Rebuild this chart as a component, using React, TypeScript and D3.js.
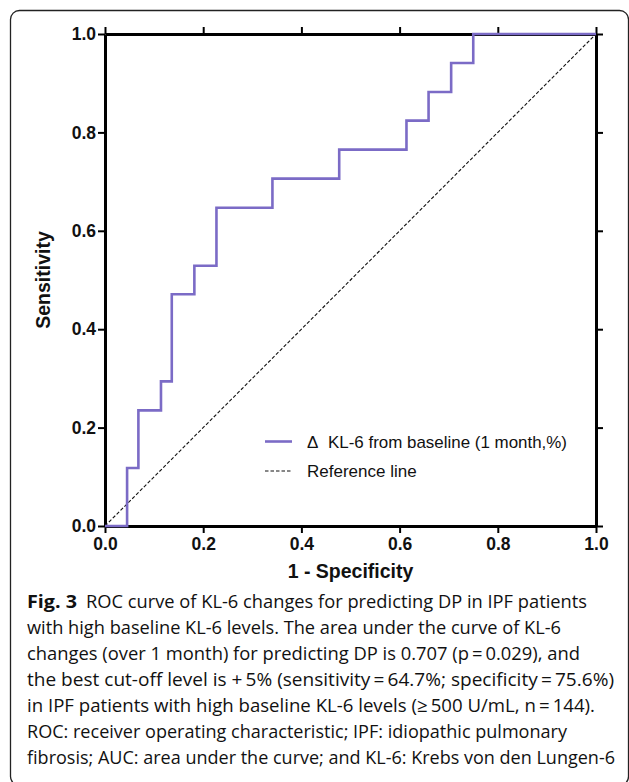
import React, { useEffect, useRef } from 'react';
import * as d3 from 'd3';

// ROC points (1 - specificity, sensitivity), step curve
const fpr = [0, 0.045, 0.068, 0.114, 0.136, 0.182, 0.227, 0.341, 0.477, 0.614, 0.659, 0.705, 0.75, 1.0];
const tpr = [0, 0.118, 0.235, 0.294, 0.471, 0.529, 0.647, 0.706, 0.765, 0.824, 0.882, 0.941, 1.0, 1.0];
const refLine = [0, 1];
const tickValues = [0, 0.2, 0.4, 0.6, 0.8, 1.0];

const legendLabels = ['KL-6 from baseline (1 month,%)', 'Reference line'];
const captionLines = [
  'ROC curve of KL-6 changes for predicting DP in IPF patients',
  'with high baseline KL-6 levels.  The area under the curve of KL-6',
  'changes (over 1 month) for predicting DP is 0.707 (p\u2009=\u20090.029), and',
  'the best cut-off level is +\u20095% (sensitivity\u2009=\u200964.7%; specificity\u2009=\u200975.6%)',
  'in IPF patients with high baseline KL-6 levels (\u2265\u2009500 U/mL, n\u2009=\u2009144).',
  'ROC: receiver operating characteristic; IPF: idiopathic pulmonary',
  'fibrosis; AUC: area under the curve; and KL-6: Krebs von den Lungen-6',
];
const captionEnds = [587, 561, 580, 614, 595, 567, 615];

const W = 629, H = 782;
const left = 105, right = 596, top = 34, bottom = 526;
const purple = '#7b6bc6';
const chartFont = '"Liberation Sans", Arial, sans-serif';
const capFont = '"Open Sans", sans-serif';

export default function App() {
  const gx = useRef<SVGGElement>(null);
  const gy = useRef<SVGGElement>(null);
  const gt = useRef<SVGGElement>(null);
  const gr = useRef<SVGGElement>(null);

  const x = d3.scaleLinear().domain([0, 1]).range([left, right]);
  const y = d3.scaleLinear().domain([0, 1]).range([bottom, top]);

  useEffect(() => {
    const fmt = d3.format('.1f');
    const style = (g: any) => {
      g.select('.domain').attr('stroke', '#000').attr('stroke-width', 3);
      g.selectAll('.tick line').attr('stroke', '#000').attr('stroke-width', 2);
      g.selectAll('.tick text')
        .attr('fill', '#111')
        .style('font-family', chartFont)
        .style('font-size', '17.5px')
        .style('font-weight', 'bold');
    };
    d3.select(gx.current!)
      .call(d3.axisBottom(x).tickValues(tickValues).tickFormat(d => fmt(+d)).tickSize(7).tickSizeOuter(0).tickPadding(5))
      .call(style);
    d3.select(gy.current!)
      .call(d3.axisLeft(y).tickValues(tickValues).tickFormat(d => fmt(+d)).tickSize(7).tickSizeOuter(0).tickPadding(2))
      .call(style);
    d3.select(gt.current!)
      .call(d3.axisTop(x).tickValues(tickValues).tickFormat(() => '').tickSize(7).tickSizeOuter(0))
      .call(style);
    d3.select(gr.current!)
      .call(d3.axisRight(y).tickValues(tickValues).tickFormat(() => '').tickSize(7).tickSizeOuter(0))
      .call(style);
  }, []);

  const pts = fpr.map((f, i) => [f, tpr[i]] as [number, number]);
  const roc = d3.line<[number, number]>()
    .x(d => x(d[0]))
    .y(d => y(d[1]))
    .curve(d3.curveStepAfter)(pts);
  const ref = d3.line<number>().x(d => x(d)).y(d => y(d))(refLine);

  return (
    <svg width={W} height={H} style={{ position: 'absolute', left: 0, top: 0, background: '#fff' }}>
      <rect x={10.5} y={10.5} width={618} height={775} rx={9} fill="none" stroke="#222" strokeWidth={1.3} />

      <g ref={gx} transform={`translate(0,${bottom})`} />
      <g ref={gy} transform={`translate(${left},0)`} />
      <g ref={gt} transform={`translate(0,${top})`} />
      <g ref={gr} transform={`translate(${right},0)`} />

      <path d={ref ?? ''} fill="none" stroke="#111" strokeWidth={1.1} strokeDasharray="3.5,2" />
      <path d={roc ?? ''} fill="none" stroke={purple} strokeWidth={2.6} />

      <text x={43} y={(top + bottom) / 2} transform={`rotate(-90,43,${(top + bottom) / 2})`}
        textAnchor="middle" dominantBaseline="central"
        style={{ fontFamily: chartFont, fontSize: '19.5px', fontWeight: 'bold' }} fill="#111">Sensitivity</text>
      <text x={(left + right) / 2} y={578} textAnchor="middle"
        style={{ fontFamily: chartFont, fontSize: '19.5px', fontWeight: 'bold' }} fill="#111">1 - Specificity</text>

      {/* legend */}
      <line x1={265} x2={292} y1={441.5} y2={441.5} stroke={purple} strokeWidth={2.6} />
      <text x={307} y={447.5} style={{ fontFamily: chartFont, fontSize: '17px' }} fill="#111">{'\u0394'}</text>
      <text x={328} y={447.5} textLength={239} lengthAdjust="spacingAndGlyphs"
        style={{ fontFamily: chartFont, fontSize: '17px' }} fill="#111">{legendLabels[0]}</text>
      <line x1={265} x2={292} y1={471} y2={471} stroke="#111" strokeWidth={1.1} strokeDasharray="3.5,2" />
      <text x={307} y={477} style={{ fontFamily: chartFont, fontSize: '17px' }} fill="#111">{legendLabels[1]}</text>

      {/* caption */}
      <text x={27} y={608} textLength={50} lengthAdjust="spacingAndGlyphs"
        style={{ fontFamily: capFont, fontSize: '18.5px', fontWeight: 'bold' }} fill="#111">Fig. 3</text>
      {captionLines.map((t, i) => {
        const sx = i === 0 ? 86 : 27;
        return (
          <text key={i} x={sx} y={608 + i * 26} textLength={captionEnds[i] - sx} lengthAdjust="spacingAndGlyphs"
            style={{ fontFamily: capFont, fontSize: '18.5px' }} fill="#111">{t}</text>
        );
      })}
    </svg>
  );
}
